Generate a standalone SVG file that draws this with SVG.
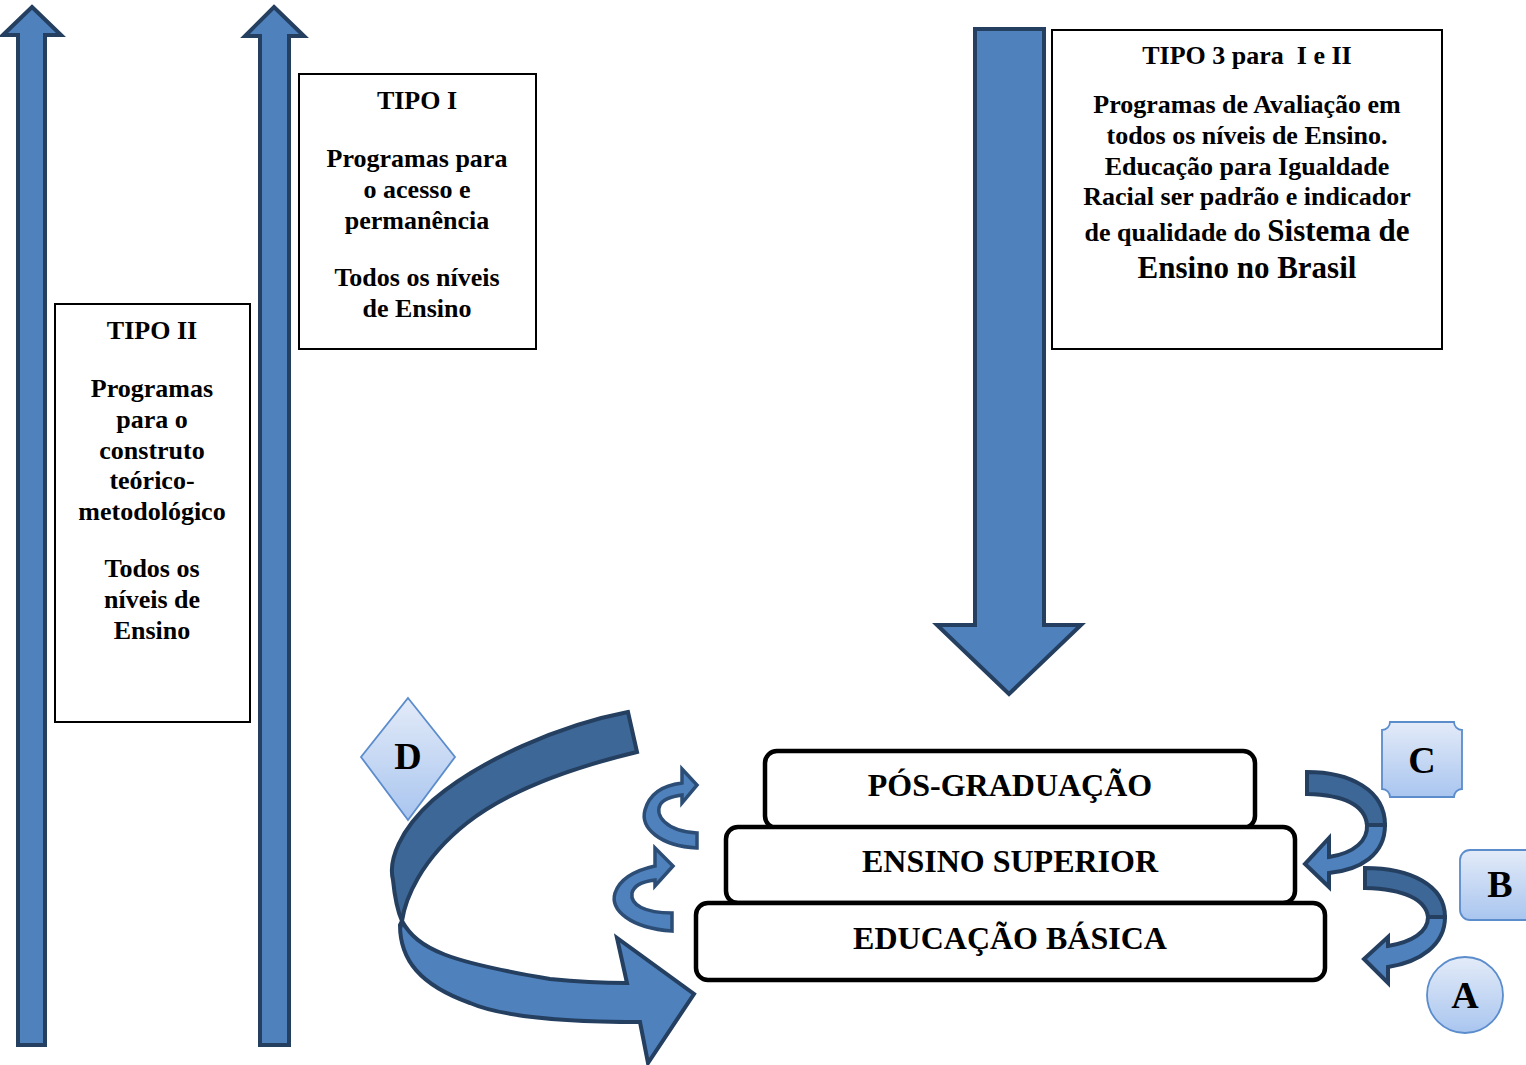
<svg xmlns="http://www.w3.org/2000/svg" width="1526" height="1065" viewBox="0 0 1526 1065">
<style>
.t{font-family:"Liberation Serif","Times New Roman",serif;font-weight:bold;fill:#000;text-anchor:middle}
.s26{font-size:26px}
.s32{font-size:32px}
.s37{font-size:38px}
.box{fill:#fff;stroke:#000;stroke-width:2}
.lvl{fill:#fff;stroke:#000;stroke-width:4.5}
.arr{fill:#4f81bd;stroke:#243f60;stroke-width:4;stroke-linejoin:miter}
.arrd{fill:#3d6796;stroke:#243f60;stroke-width:4}
.sm{fill:#4f81bd;stroke:#2c4d75;stroke-width:3.5}
.smd{fill:#3f6a9c;stroke:#2c4d75;stroke-width:3.5}
.tag{fill:url(#g);stroke:#5b8ccc;stroke-width:1.8}
</style>
<defs>
<linearGradient id="g" x1="0" y1="0" x2="0" y2="1">
<stop offset="0" stop-color="#e3ebf8"/>
<stop offset="1" stop-color="#a9c5ef"/>
</linearGradient>
</defs>
<rect width="1526" height="1065" fill="#fff"/>

<g id="connectors">
<path class="arr" d="M32 7 L61 35 L45 35 L45 1045 L18 1045 L18 35 L3 35 Z"/>
<path class="arr" d="M274 7 L304 36 L289 36 L289 1045 L260 1045 L260 36 L245 36 Z"/>
<path class="arr" d="M975 29 H1044 V625 H1081 L1009 694 L937 625 H975 Z"/>
<!-- big curved arrow D -->
<path class="arr" d="M402 921 C418 950 450 962 550 979 C590 983 610 983 627 983 L617 938 L694 994 L648 1063 L640 1022 C560 1022 500 1016 470 1003 C420 985 400 960 400 925 Z"/>
<path class="arrd" d="M628 712 C560 725 480 760 433 800 C400 830 388 860 393 880 C395 900 398 912 402 921 C405 900 420 860 467 823 C500 797 550 773 637 752 Z"/>
<!-- small left arrows -->
<path class="sm" d="M660 805 C655 815 665 831 697 833 L697 848 C660 846 640 828 645 810 C650 792 665 785 682 783 L682 769 L697 785 L682 803 L682 795 C668 797 662 801 660 805 Z"/>
<path class="sm" d="M632 893 C630 905 645 913 672 913 L672 931 C630 928 610 910 615 893 C620 878 637 870 655 866 L655 848 L673 866 L655 886 L655 880 C640 882 634 886 632 893 Z"/>
<!-- right arrows -->
<path class="arrd" d="M1307 772 C1350 772 1385 790 1385 825 L1367 825 C1365 805 1345 795 1307 794 Z"/>
<path class="arr" d="M1385 825 C1385 855 1360 870 1329 873 L1329 887 L1305 864 L1329 838 L1329 857 C1355 853 1368 840 1367 825 Z"/>
<path class="arrd" d="M1365 868 C1410 868 1445 885 1445 917 L1428 917 C1426 900 1405 889 1365 888 Z"/>
<path class="arr" d="M1445 917 C1445 945 1420 962 1388 967 L1388 983 L1364 959 L1388 937 L1388 946 C1412 942 1428 932 1428 917 Z"/>
</g>

<g id="tipo1">
<rect class="box" x="299" y="74" width="237" height="275"/>
<text class="t s26" x="417" y="109">TIPO I</text>
<text class="t s26" x="417" y="167">Programas para</text>
<text class="t s26" x="417" y="198">o acesso e</text>
<text class="t s26" x="417" y="229">permanência</text>
<text class="t s26" x="417" y="286">Todos os níveis</text>
<text class="t s26" x="417" y="317">de Ensino</text>
</g>

<g id="tipo2">
<rect class="box" x="55" y="304" width="195" height="418"/>
<text class="t s26" x="152" y="339">TIPO II</text>
<text class="t s26" x="152" y="397">Programas</text>
<text class="t s26" x="152" y="428">para o</text>
<text class="t s26" x="152" y="459">construto</text>
<text class="t s26" x="152" y="489">teórico-</text>
<text class="t s26" x="152" y="520">metodológico</text>
<text class="t s26" x="152" y="577">Todos os</text>
<text class="t s26" x="152" y="608">níveis de</text>
<text class="t s26" x="152" y="639">Ensino</text>
</g>

<g id="tipo3">
<rect class="box" x="1052" y="30" width="390" height="319"/>
<text class="t s26" x="1247" y="64" style="white-space:pre">TIPO 3 para  I e II</text>
<text class="t s26" x="1247" y="113">Programas de Avaliação em</text>
<text class="t s26" x="1247" y="144">todos os níveis de Ensino.</text>
<text class="t s26" x="1247" y="175">Educação para Igualdade</text>
<text class="t s26" x="1247" y="205">Racial ser padrão e indicador</text>
<text class="t s26" x="1247" y="241">de qualidade do <tspan font-size="31">Sistema de</tspan></text>
<text class="t" font-size="31" x="1247" y="278">Ensino no Brasil</text>
</g>

<g id="pos">
<rect class="lvl" x="765" y="751" width="490" height="77" rx="12"/>
<text class="t s32" x="1010" y="796">PÓS-GRADUAÇÃO</text>
</g>
<g id="superior">
<rect class="lvl" x="726" y="827" width="569" height="76" rx="12"/>
<text class="t s32" x="1010" y="872">ENSINO SUPERIOR</text>
</g>
<g id="basica">
<rect class="lvl" x="696" y="903" width="629" height="77" rx="12"/>
<text class="t s32" x="1010" y="949">EDUCAÇÃO BÁSICA</text>
</g>

<g id="tagD">
<path class="tag" d="M408 698 L455 757 L408 820 L361 757 Z"/>
<text class="t s37" x="408" y="769">D</text>
</g>
<g id="tagC">
<path class="tag" d="M1390 722 H1454 A8 8 0 0 0 1462 730 V789 A8 8 0 0 0 1454 797 H1390 A8 8 0 0 0 1382 789 V730 A8 8 0 0 0 1390 722 Z"/>
<text class="t s37" x="1422" y="773">C</text>
</g>
<g id="tagB">
<rect class="tag" x="1460" y="850" width="80" height="70" rx="10"/>
<text class="t s37" x="1500" y="897">B</text>
</g>
<g id="tagA">
<circle class="tag" cx="1465" cy="995" r="38"/>
<text class="t s37" x="1465" y="1008">A</text>
</g>
</svg>
